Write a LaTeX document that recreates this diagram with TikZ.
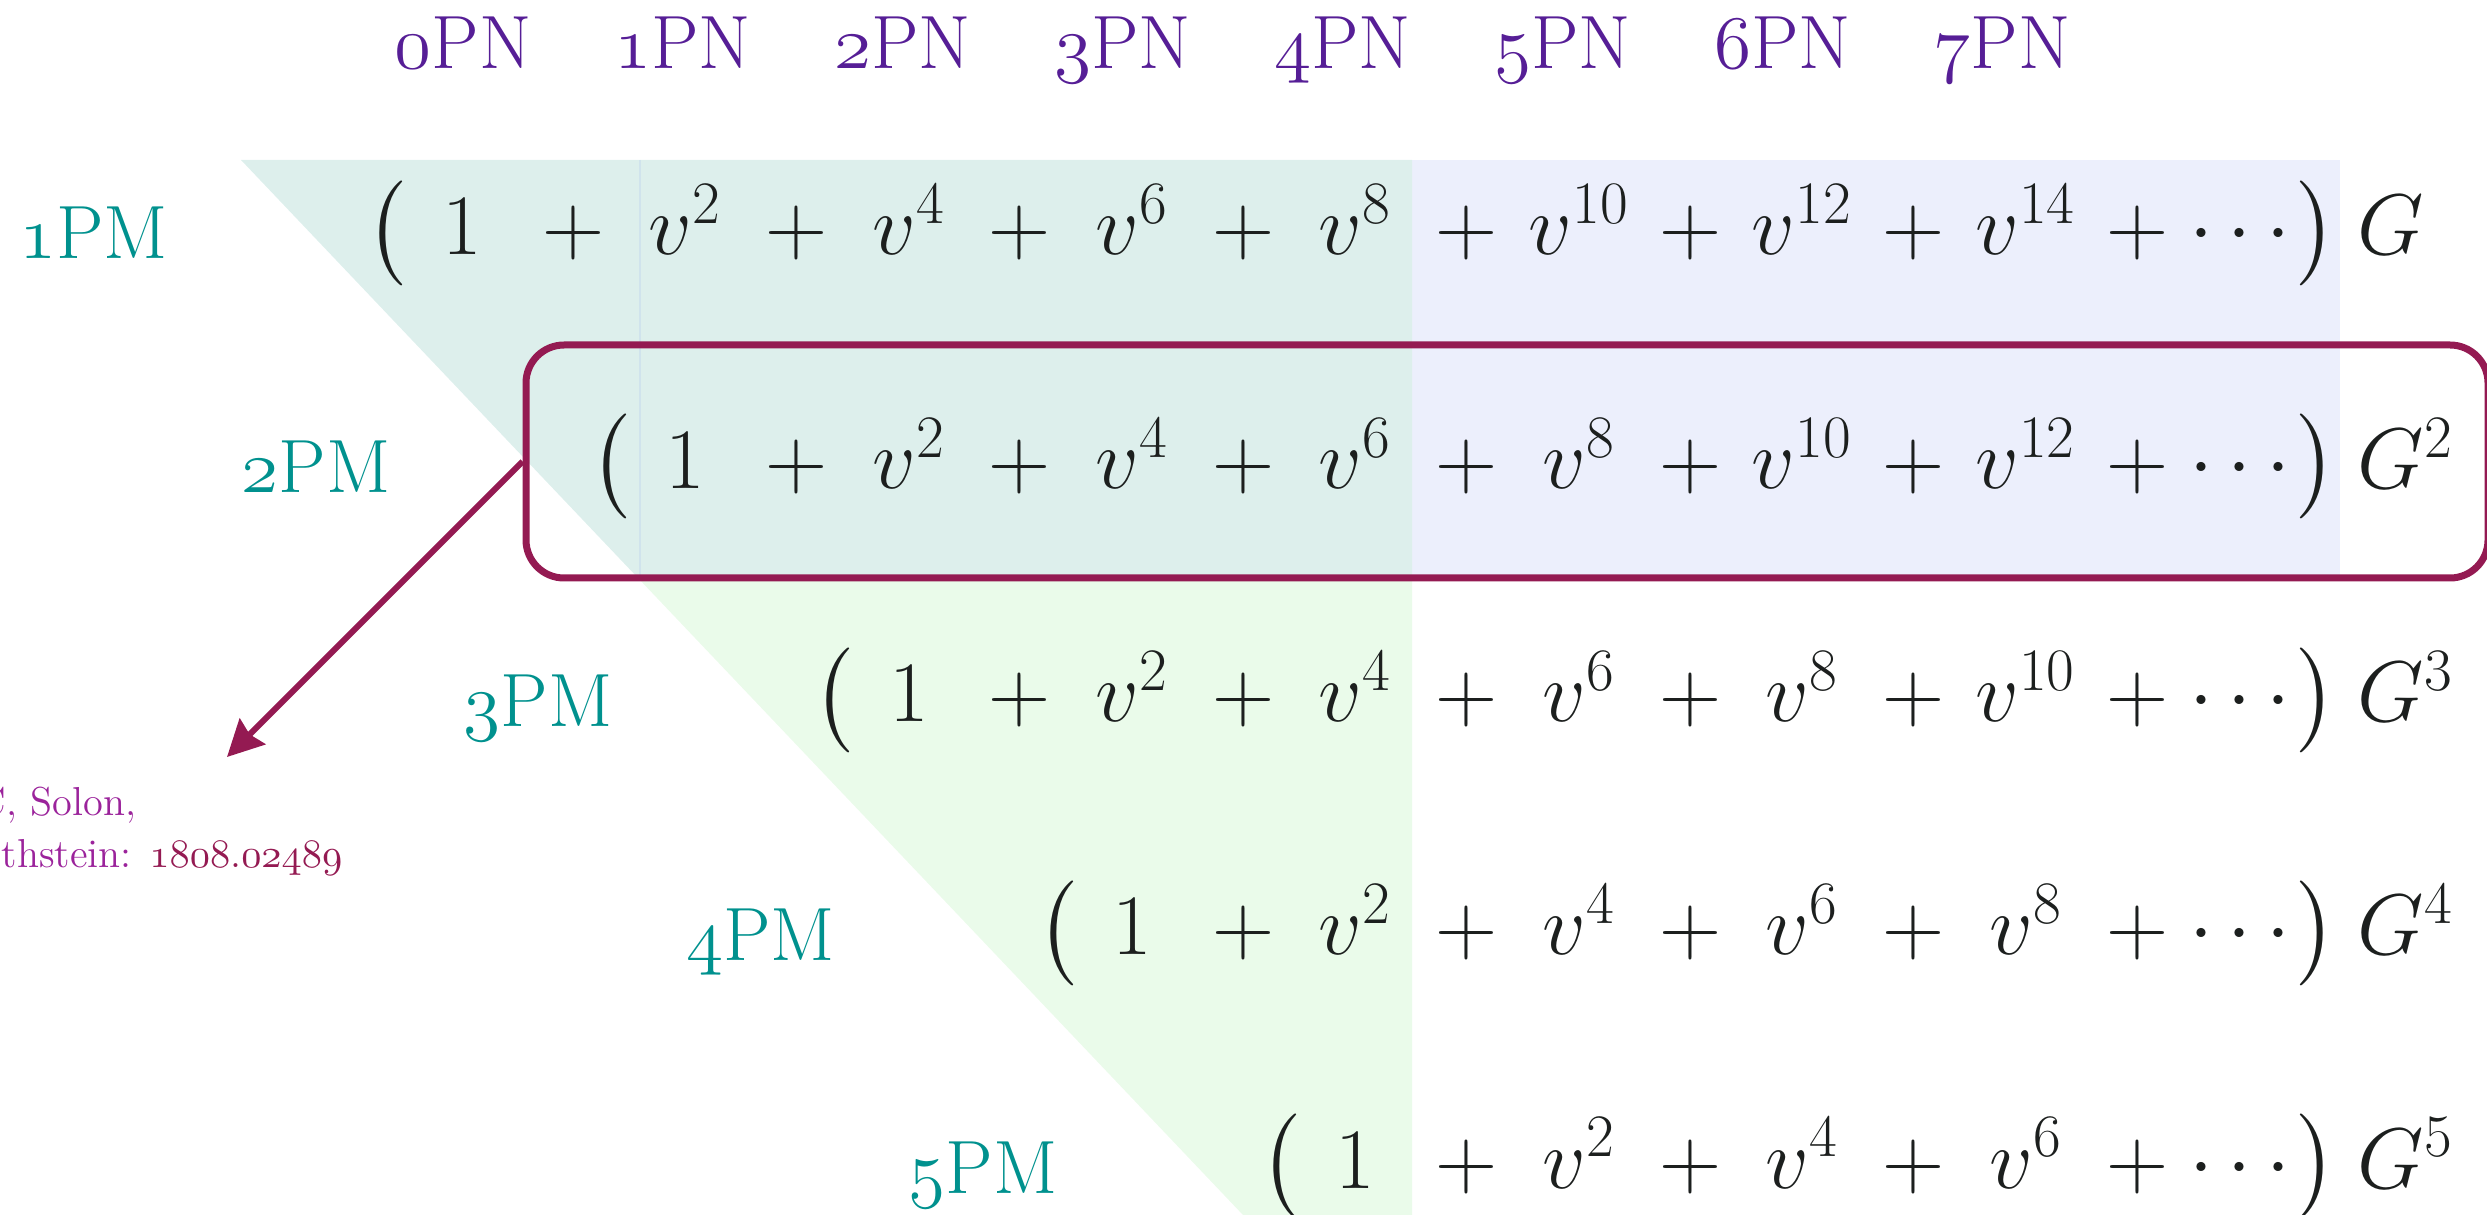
\RequirePackage{fix-cm}
\documentclass[tikz,border=0pt]{standalone}
\usepackage{exscale}
\usetikzlibrary{arrows.meta}
\newcommand\osf[1]{{\fontencoding{OML}\fontfamily{cmm}\fontseries{m}\fontshape{it}\selectfont #1}}
\newcommand\bigdelim[1]{{\nulldelimiterspace=0pt $\left#1\vcenter to 29pt{}\right.$}}
\definecolor{hdr}{HTML}{561E96}
\definecolor{pmc}{HTML}{00918E}
\definecolor{boxc}{HTML}{941A52}
\definecolor{citec}{HTML}{9B239B}
\definecolor{tealfill}{HTML}{DDEFEC}
\definecolor{bluefill}{HTML}{ECEFFC}
\definecolor{greenfill}{HTML}{EAFBEA}
\definecolor{seamc}{HTML}{D0E3EC}
\definecolor{ink}{HTML}{1C1F1E}
\tikzset{
  hdrlabel/.style={anchor=base, text=hdr, inner sep=0pt, font=\fontsize{21.5}{25}\selectfont},
  pmlabel/.style={anchor=base, text=pmc, inner sep=0pt, font=\fontsize{21.5}{25}\selectfont},
  term/.style={anchor=base, inner sep=0pt, text=ink, font=\fontsize{24.5}{29}\selectfont},
  citelabel/.style={anchor=base east, inner sep=0pt, text=citec, font=\fontsize{11.5}{14}\selectfont},
  framebox/.style={draw=boxc, line width=0.7mm, rounded corners=3.8mm, minimum width=196.2mm, minimum height=23.3mm, inner sep=0pt},
  citearrow/.style={draw=boxc, line width=0.6mm, -{Stealth[length=3.6mm, width=3.6mm, inset=0.4mm]}},
}
\begin{document}
\begin{tikzpicture}[x=0.1mm, y=-0.1mm]
\useasboundingbox (0,0) rectangle (2487,1215);
% shaded regions
\fill[bluefill] (1412,160) rectangle (2340,578);
\fill[tealfill] (241,160) -- (1412,160) -- (1412,578) -- (638,578) -- cycle;
\fill[greenfill] (638,578) -- (1412,578) -- (1412,1215) -- (1243,1215) -- cycle;
\draw[seamc, line width=0.15mm] (640,160) -- (640,578);
% column headers
\foreach \k in {0,...,7}
  \node[hdrlabel] (pn\k) at ({463+219.9*\k},69) {\osf{\k}PN};
% row labels
\foreach \r in {1,...,5}
  \node[pmlabel] (pm\r) at ({93.5+222.4*(\r-1)},{259+233.7*(\r-1)}) {\osf{\r}PM};
% highlight frame
\node[framebox] (frame) at (1507,461.5) {};
% series rows
\foreach \r in {1,...,5}{
  \pgfmathsetmacro{\yy}{255+233.25*(\r-1)}
  \pgfmathtruncatemacro{\cz}{\r-1}
  \node[term] (lp\r) at ({387+223.4*\cz},\yy) {\bigdelim(};
  \node[term] (one\r) at ({462+223.4*\cz},\yy) {$1$};
  \foreach \c in {\r,...,7}{
    \pgfmathtruncatemacro{\ex}{2*(\c-\r+1)}
    \node[term] (pl\r-\c) at ({573+223.4*(\c-1)},\yy) {$+$};
    \node[term] (v\r-\c) at ({462+223.4*\c},\yy) {$v^{\ex}$};
  }
  \node[term] (pld\r) at (2137,\yy) {$+$};
  \node[term] (dots\r) at (2240,\yy) {$\cdots$};
  \node[term] (rp\r) at (2316,\yy) {\bigdelim)};
  \node[term, anchor=base west] (g\r) at (2357,\yy) {\ifnum\r=1 $G$\else $G^{\r}$\fi};
}
% citation
\coordinate (citetip) at (227,757);
\draw[citearrow] (frame.west) -- (citetip);
\node[citelabel] (cite1) at (137,815) {C, Solon,};
\node[citelabel] (cite2) at (343,867) {thstein: \textcolor{boxc}{\osf{1808}.\osf{02489}}};
\end{tikzpicture}
\end{document}
